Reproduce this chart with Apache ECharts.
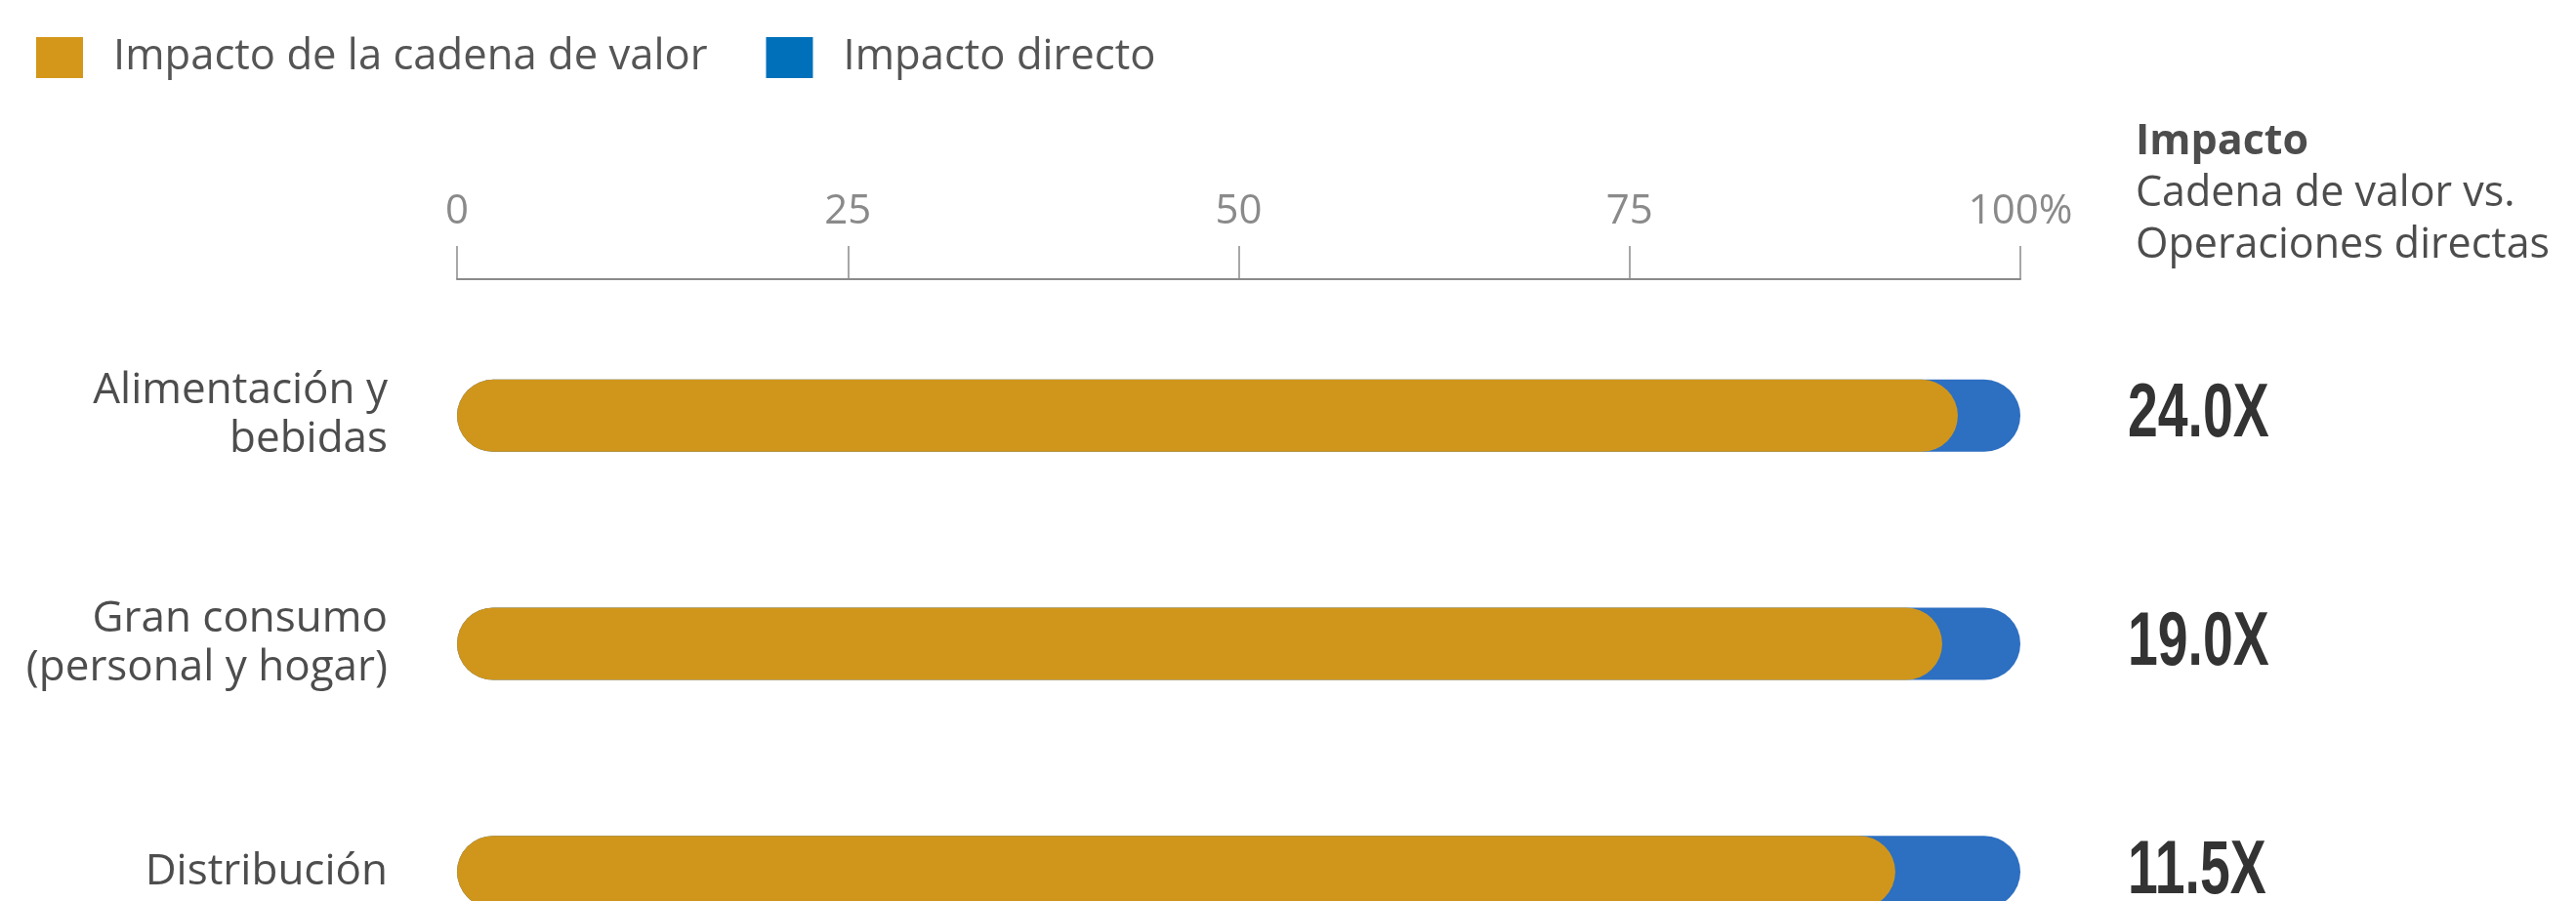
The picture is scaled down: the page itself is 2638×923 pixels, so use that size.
<!DOCTYPE html>
<html>
<head>
<meta charset="utf-8">
<script src="https://cdn.jsdelivr.net/npm/echarts@6/dist/echarts.min.js"></script>
<style>
html,body{margin:0;padding:0;background:#fff;}
#c{width:2638px;height:923px;}
</style>
</head>
<body>
<div id="c"></div>
<script>
const categories = ['Alimentación y\nbebidas', 'Gran consumo\n(personal y hogar)', 'Distribución'];
const valueChain = [96, 95, 92];
const direct = [4, 5, 8];
const ratios = [24.0, 19.0, 11.5];
const seriesNames = ['Impacto de la cadena de valor', 'Impacto directo'];
const tickValues = [0, 25, 50, 75, 100];

const totals = valueChain.map((v, i) => v + direct[i]);
const chart = echarts.init(document.getElementById('c'));
const FONT = '"Open Sans", "Noto Sans", sans-serif';

chart.setOption({
  animation: false,
  backgroundColor: '#ffffff',
  legend: {
    left: 37, top: 37, padding: 0,
    itemWidth: 48, itemHeight: 42, itemGap: 60,
    icon: 'rect',
    data: [
      { name: seriesNames[0], itemStyle: { color: '#D4971A' } },
      { name: seriesNames[1], itemStyle: { color: '#0070BA' } }
    ],
    textStyle: { fontFamily: FONT, fontSize: 43.6, color: '#555555', padding: [0, 0, 0, 26] }
  },
  title: {
    left: 2187, top: 119, padding: 0,
    text: '{b|Impacto}\n{n|Cadena de valor vs.}\n{n|Operaciones directas}',
    textStyle: {
      fontWeight: 'normal',
      rich: {
        b: { fontFamily: FONT, fontSize: 43, fontWeight: 'bold', color: '#4d4d4d', lineHeight: 53 },
        n: { fontFamily: FONT, fontSize: 43, fontWeight: 'normal', color: '#4d4d4d', lineHeight: 53 }
      }
    }
  },
  grid: { left: 468, right: 569, top: 309, height: 701, outerBoundsMode: 'none' },
  xAxis: {
    type: 'value', position: 'top', offset: 23,
    min: 0, max: 100, interval: 25,
    axisLine: { show: true, lineStyle: { color: '#8a8a8a', width: 2 } },
    axisTick: { show: true, length: 34, lineStyle: { color: '#8a8a8a', width: 1.5 } },
    splitLine: { show: false },
    axisLabel: {
      margin: 48, fontFamily: FONT, fontSize: 42, color: '#8a8a8a',
      formatter: v => tickValues.indexOf(v) >= 0 ? (v === 100 ? '100%' : String(v)) : ''
    }
  },
  yAxis: {
    type: 'category', inverse: true, data: categories,
    axisLine: { show: false }, axisTick: { show: false },
    axisLabel: { margin: 71, fontFamily: FONT, fontSize: 44, lineHeight: 50, color: '#4d4d4d', align: 'right' }
  },
  series: [
    {
      name: seriesNames[0], type: 'bar', data: valueChain, barWidth: 74, z: 3,
      itemStyle: { color: '#D0961B', borderRadius: 37 }
    },
    {
      name: seriesNames[1], type: 'bar', data: totals, barWidth: 74, barGap: '-100%', z: 2,
      itemStyle: { color: '#2D6FC1', borderRadius: 37 }
    },
    {
      name: 'ratio', type: 'custom', z: 4,
      data: totals.map((t, i) => [t, i]),
      encode: { x: 0, y: 1 },
      renderItem: function (params, api) {
        const pt = api.coord([api.value(0), api.value(1)]);
        return {
          type: 'text',
          x: pt[0] + 110, y: pt[1],
          scaleX: 0.71,
          style: {
            text: ratios[params.dataIndex].toFixed(1) + 'X',
            fontFamily: '"Liberation Sans", Arial, sans-serif',
            fontWeight: 'bold', fontSize: 78, fill: '#333333',
            align: 'left', verticalAlign: 'middle'
          }
        };
      }
    }
  ]
});
</script>
</body>
</html>
